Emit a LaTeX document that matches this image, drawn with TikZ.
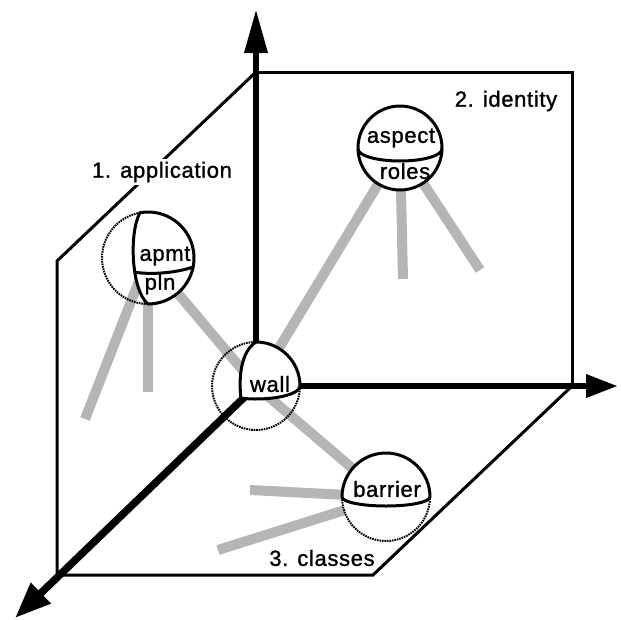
\documentclass[tikz,border=0pt]{standalone}
\usepackage{fontspec}
\setmainfont{Liberation Sans}[LetterSpace=3.0,FakeBold=1.2]
\usetikzlibrary{arrows.meta}
\begin{document}
\begin{tikzpicture}[x=1pt,y=1pt,
  plane/.style={line width=3pt, line join=miter},
  axis/.style={line width=6.5pt},
  stripe/.style={line width=10pt, draw=gray!58},
  ghost/.style={line width=2pt, dash pattern=on 1.6pt off 0.9pt},
  shell/.style={line width=3pt, fill=white, line join=round},
  seam/.style={line width=3pt},
  lbl/.style={font=\fontsize{22}{26}\selectfont, inner sep=1pt}]
\useasboundingbox (0,0) rectangle (621,-619);
% frame coordinates
\coordinate (O) at (256,-386);
\coordinate (Ztop) at (256,-72);
\coordinate (TR) at (572,-72);
\coordinate (R) at (572,-386);
\coordinate (P1) at (57,-261);
\coordinate (BL) at (57,-575);
\coordinate (P3) at (373,-575);
\coordinate (Ytip) at (256,-9);
\coordinate (Xtip) at (618,-386);
\coordinate (Dtip) at (15,-618);
% sphere centres
\coordinate (aspect) at (400,-148);
\coordinate (apmt) at (148,-258);
\coordinate (wall) at (256,-386);
\coordinate (barrier) at (386,-497);
% free ends of legs
\coordinate (asM) at (403,-279);
\coordinate (asR) at (480,-270);
\coordinate (apL) at (85,-419);
\coordinate (apM) at (148,-392);
\coordinate (bH) at (250,-490);
\coordinate (bD) at (218,-550);
% planes
\draw[plane] (Ztop) -- (TR) -- (R);
\draw[plane] (Ztop) -- (P1) -- (BL) -- (P3) -- (R);
% axes
\draw[axis, -{Triangle[length=44pt,width=22pt]}] (O) -- (Ytip);
\draw[axis, -{Triangle[length=32pt,width=22pt]}] (O) -- (Xtip);
\draw[axis, line width=7.5pt, -{Triangle[length=36pt,width=27pt]}] (O) -- (Dtip);
% stripes
\draw[stripe] (aspect) -- (wall);
\draw[stripe] (aspect) -- (asM);
\draw[stripe] (aspect) -- (asR);
\draw[stripe] (apmt) -- (wall);
\draw[stripe] (apmt) -- (apL);
\draw[stripe] (apmt) -- (apM);
\draw[stripe] (wall) -- (barrier);
\draw[stripe] (barrier) -- (bH);
\draw[stripe] (barrier) -- (bD);
% aspect sphere
\draw[shell] (aspect) circle[radius=42];
\draw[seam] (358,-149) arc[start angle=180, end angle=360, x radius=42, y radius=12];
% apmt sphere
\draw[ghost] (apmt) circle[radius=46];
\draw[shell] (140.01,-212.70) arc[start angle=100, end angle=-90, radius=46]
  .. controls (131,-290) and (129,-232) .. (140.01,-212.70) -- cycle;
\draw[seam] (134,-272) .. controls (150,-275) and (176,-273) .. (193.1,-267);
% wall sphere
\draw[ghost] (wall) circle[radius=44];
\draw[shell] (256,-342) arc[start angle=90, end angle=0, radius=44]
  arc[start angle=0, end angle=-110, x radius=44, y radius=13]
  .. controls (238,-372) and (243,-350) .. (256,-342) -- cycle;
% barrier sphere
\fill[white] (barrier) circle[radius=44];
\draw[ghost] (342,-497) arc[start angle=180, end angle=360, radius=44];
\draw[shell] (342,-497) arc[start angle=180, end angle=0, radius=44]
  arc[start angle=0, end angle=-180, x radius=44, y radius=9] -- cycle;
% texts
\node[lbl, fill=white, inner sep=3pt] (l1) at (162,-172) {1. application};
\node[lbl] (l2) at (506,-101) {2. identity};
\node[lbl] (l3) at (322,-558) {3. classes};
\node[lbl] (t1) at (401,-138) {aspect};
\node[lbl] (t2) at (405,-171) {roles};
\node[lbl] (t3) at (165,-256) {apmt};
\node[lbl] (t4) at (160,-284) {pln};
\node[lbl] (t5) at (270,-384) {wall};
\node[lbl] (t6) at (387,-489) {barrier};
\end{tikzpicture}
\end{document}
